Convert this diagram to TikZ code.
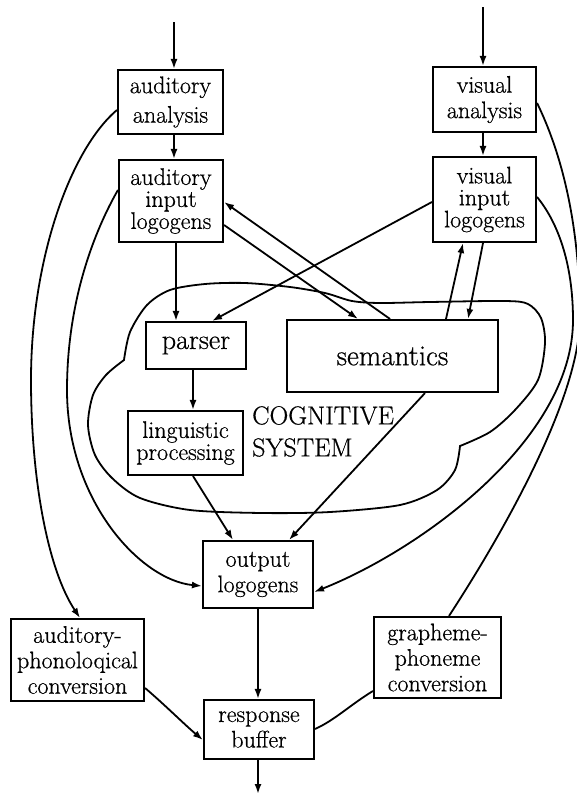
\documentclass[tikz,border=0pt]{standalone}
\usepackage{fontspec}
\setmainfont{Latin Modern Roman}[FakeBold=0.6]
\usetikzlibrary{arrows.meta}
\begin{document}
\begin{tikzpicture}[x=1pt,y=-1pt,
  box/.style={draw, fill=white, line width=2.1pt, inner sep=0pt, align=center, font=\fontsize{24}{25.5}\selectfont},
  tight/.style={font=\fontsize{24}{22}\selectfont},
  con/.style={line width=1.8pt},
  arr/.style={con, -{Latex[length=10pt,width=7pt]}},
]
\useasboundingbox (0,0) rectangle (577,798);

% cloud (cognitive system)
\draw[con] plot[smooth] coordinates {(124,360) (130,332) (147,305) (170,290) (205,284) (245,283) (290,287) (325,293) (352,301) (380,303) (430,302) (505,301) (528,304) (541,318) (545,343) (538,380) (515,410) (490,432) (460,446)}
  -- plot[smooth] coordinates {(460,446) (455,470) (437,490) (400,505) (330,512) (262,513) (190,510) (140,498) (112,478) (95,455) (88,425) (93,395) (106,375) (124,360)} -- cycle;

% boxes
\node[box, minimum width=105, minimum height=64] (aa) at (170.5,102) {auditory\\[4pt]analysis};
\node[box, tight, minimum width=104, minimum height=82] (ail) at (171,201) {auditory\\input\\logogens};
\node[box, minimum width=103, minimum height=65] (va) at (484.5,99.5) {visual\\analysis};
\node[box, tight, minimum width=103, minimum height=85] (vil) at (484.5,199.5) {visual\\input\\logogens};
\node[box, font=\fontsize{28}{30}\selectfont, minimum width=100, minimum height=47] (parser) at (196,345.5) {parser};
\node[box, font=\fontsize{29}{31}\selectfont, minimum width=211, minimum height=72] (sem) at (392.5,356) {semantics};
\node[box, tight, minimum width=115, minimum height=64] (ling) at (185.5,443) {linguistic\\processing};
\node[box, minimum width=110, minimum height=67] (out) at (258,574.5) {output\\logogens};
\node[box, minimum width=133, minimum height=82] (apc) at (77.5,660) {auditory-\\phonoloqical\\conversion};
\node[box, minimum width=127, minimum height=81] (gpc) at (437.5,657.5) {grapheme-\\phoneme\\conversion};
\node[box, minimum width=110, minimum height=59] (rb) at (259,729.5) {response\\buffer};
\node[font=\fontsize{26}{32}\selectfont, align=left, anchor=north west, inner sep=0pt] (cs) at (252,406) {COGNITIVE\\SYSTEM};

% free ends
\coordinate (inA) at (174,22);
\coordinate (inV) at (483,7);
\coordinate (outR) at (258,794);

% straight connectors
\draw[arr] (inA) -- (aa.north -| inA);
\draw[arr] (inV) -- (va.north -| inV);
\draw[arr] (aa.south -| 174,0) -- (ail.north -| 174,0);
\draw[arr] (va.south -| 483,0) -- (vil.north -| 483,0);
\draw[arr] (ail.south -| 176,0) -- (parser.north -| 176,0);
\draw[arr] (parser.south -| 193,0) -- (ling.north -| 193,0);
\draw[arr] (vil.west |- 0,202) -- (parser.north -| 212,0);
\draw[arr] (ail.east |- 0,225) -- (sem.north -| 358,0);
\draw[arr] (sem.north -| 390,0) -- (ail.east |- 0,202);
\draw[arr] (sem.north -| 446,0) -- (vil.south -| 463,0);
\draw[arr] (vil.south -| 483,0) -- (sem.north -| 468,0);
\draw[arr] (ling.south -| 193,0) -- (out.north -| 233,0);
\draw[arr] (sem.south -| 425,0) -- (out.north -| 289,0);
\draw[arr] (out.south -| 258,0) -- (rb.north -| 258,0);
\draw[arr] (rb.south -| 258,0) -- (outR);

% curved connectors
\draw[arr] (aa.west |- 0,110) .. controls (70,150) and (31,260) .. (31,380) .. controls (31,480) and (48,570) .. (apc.north -| 80,0);
\draw[arr] (ail.west |- 0,190) .. controls (95,230) and (67,300) .. (67,390) .. controls (67,500) and (140,580) .. (out.west |- 0,586);
\draw[con] (va.east |- 0,103) .. controls (560,150) and (580,220) .. (580,320) .. controls (578,400) and (505,530) .. (gpc.north -| 449,0);
\draw[arr] (vil.east |- 0,197) .. controls (556,220) and (573,260) .. (573,320) .. controls (573,440) and (420,550) .. (out.east |- 0,592);
\draw[arr] (apc.east |- 0,688) .. controls (165,705) and (185,725) .. (rb.west |- 0,740);
\draw[con] (gpc.west |- 0,691) .. controls (350,705) and (335,720) .. (rb.east |- 0,729);
\end{tikzpicture}
\end{document}
